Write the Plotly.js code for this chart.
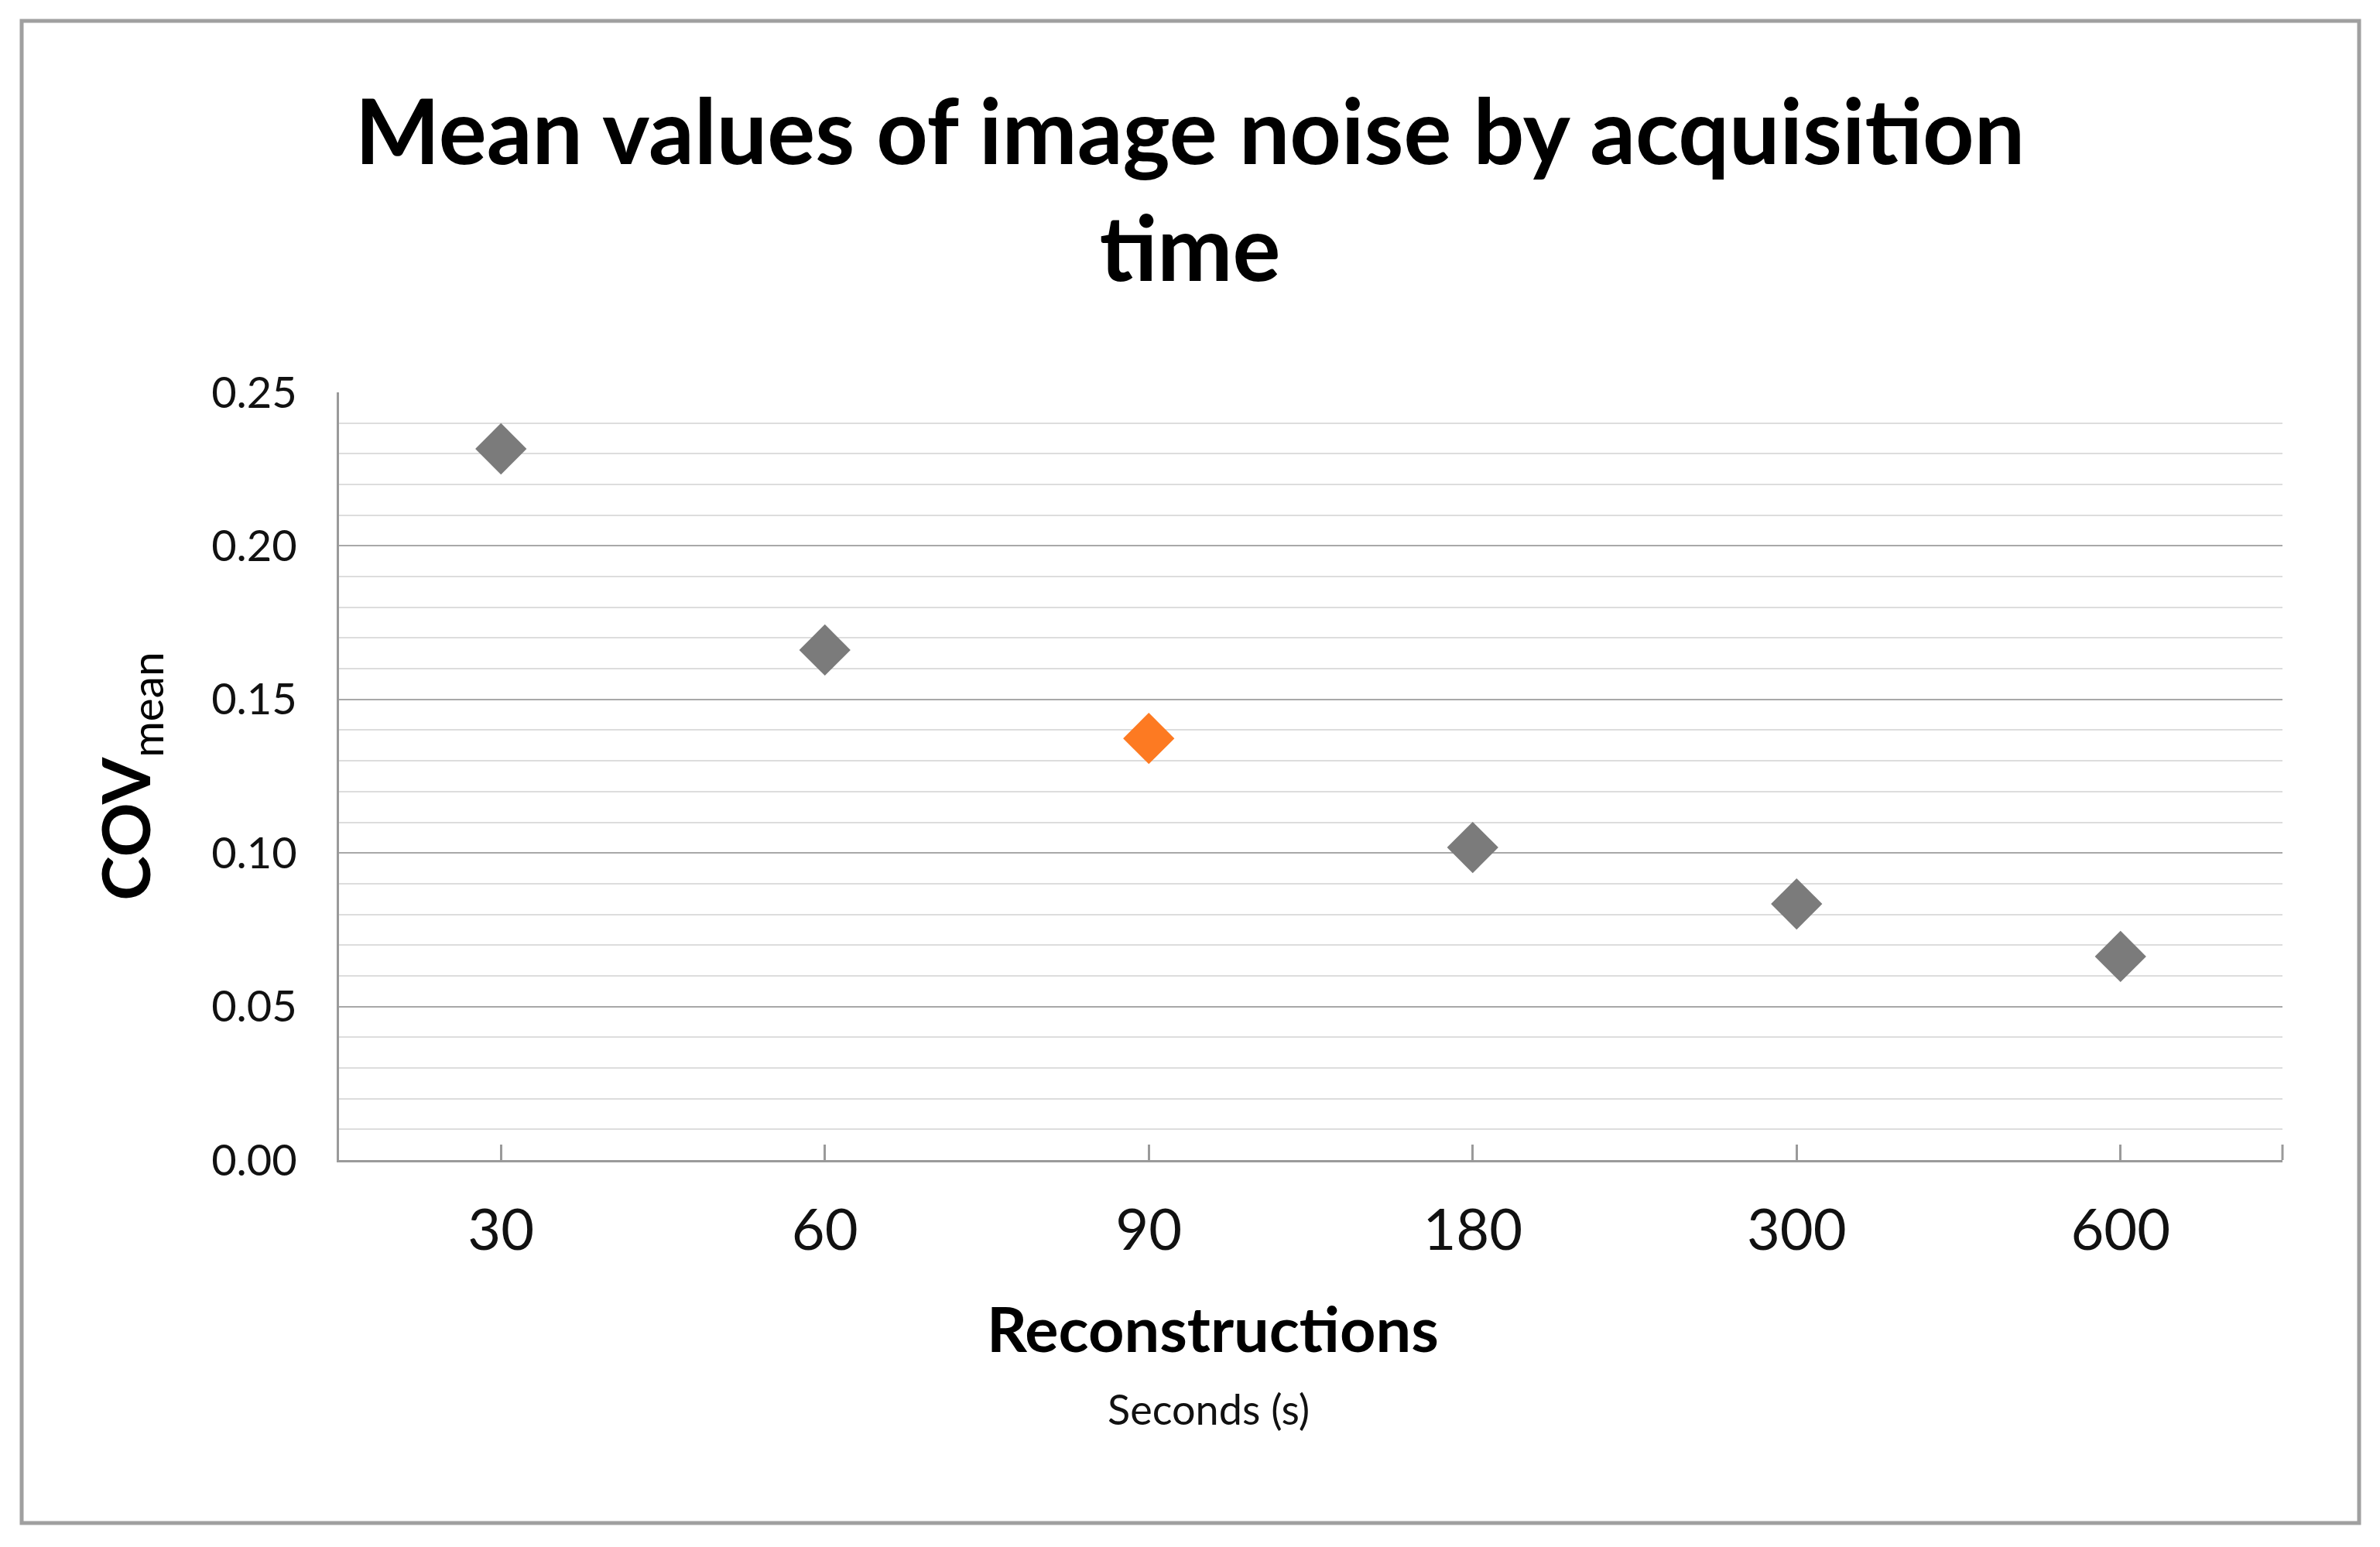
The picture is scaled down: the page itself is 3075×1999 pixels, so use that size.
<!DOCTYPE html>
<html>
<head>
<meta charset="utf-8">
<script src="https://cdn.plot.ly/plotly-3.0.1.min.js"></script>
<style>html,body{margin:0;padding:0;background:#fff;}#chart{width:3075px;height:1999px;}</style>
</head>
<body>
<div id="chart"></div>
<script>
// Data
const categories = ["30", "60", "90", "180", "300", "600"];
const covMean = [0.2316, 0.1661, 0.1373, 0.1018, 0.0834, 0.0663];
const highlighted = "90";
const yTickValues = [0, 0.05, 0.10, 0.15, 0.20, 0.25];

const W = 3075, H = 1999;
const M = {l: 438, r: 126, t: 507, b: 500};
const pw = W - M.l - M.r, ph = H - M.t - M.b;
const px = x => (x - M.l) / pw;
const py = y => (H - M.b - y) / ph;

const GRAY = '#7b7b7b', ORANGE = '#fd7a22';
const colors = categories.map(c => c === highlighted ? ORANGE : GRAY);

const trace = {
  type: 'scatter', mode: 'markers',
  x: categories, y: covMean,
  marker: {symbol: 'diamond', size: 51, color: colors, line: {width: 0}},
  hoverinfo: 'x+y', showlegend: false
};

const FONT = 'Lato, "Open Sans", sans-serif';

const layout = {
  width: W, height: H,
  margin: M,
  paper_bgcolor: '#ffffff', plot_bgcolor: '#ffffff',
  font: {family: FONT, color: '#000'},
  title: {
    text: '<b>Mean values of image noise by acquisition<br>time</b>',
    font: {family: FONT, size: 116, color: '#000'},
    x: 0.5, xref: 'container', xanchor: 'center',
    y: 1 - 212 / H, yref: 'container', yanchor: 'top'
  },
  xaxis: {
    type: 'category',
    categoryorder: 'array', categoryarray: categories,
    range: [-0.5, categories.length - 0.5],
    showgrid: false, zeroline: false,
    showline: true, linecolor: '#9a9a9a', linewidth: 3,
    ticks: 'inside', ticklen: 20, tickwidth: 3, tickcolor: '#9a9a9a',
    tickfont: {family: FONT, size: 74, color: '#111'},
    ticklabelstandoff: 24,
    fixedrange: true
  },
  yaxis: {
    range: [0, 0.25],
    tickvals: yTickValues, tickformat: '.2f',
    showgrid: true, gridcolor: '#a8a8a8', gridwidth: 2,
    minor: {dtick: 0.01, showgrid: true, gridcolor: '#dddddd', gridwidth: 2, ticks: ''},
    zeroline: false,
    showline: true, linecolor: '#9a9a9a', linewidth: 3,
    ticks: '', ticklabelstandoff: 40,
    tickfont: {family: FONT, size: 56, color: '#111'},
    title: {
      text: '<b><span style="font-size:87px">COV</span></b><sub>mean</sub>',
      font: {family: FONT, size: 81, color: '#000'},
      standoff: 52
    },
    fixedrange: true
  },
  annotations: [
    {text: '<b>Reconstructions</b>', xref: 'paper', yref: 'paper',
     x: px(1567), y: py(1766), xanchor: 'center', yanchor: 'bottom', showarrow: false,
     font: {family: FONT, size: 81, color: '#000'}},
    {text: 'Seconds (s)', xref: 'paper', yref: 'paper',
     x: px(1561), y: py(1786), xanchor: 'center', yanchor: 'top', showarrow: false,
     font: {family: FONT, size: 54, color: '#111'}}
  ],
  shapes: [
    {type: 'rect', xref: 'paper', yref: 'paper',
     x0: px(28), x1: px(3048), y0: py(1968), y1: py(27),
     line: {color: '#a0a0a0', width: 5}, fillcolor: 'rgba(0,0,0,0)', layer: 'below'},
    {type: 'line', xref: 'paper', yref: 'paper',
     x0: 1, x1: 1, y0: 0, y1: 20 / ph,
     line: {color: '#9a9a9a', width: 3}}
  ]
};

Plotly.newPlot('chart', [trace], layout, {displayModeBar: false, staticPlot: true});
</script>
</body>
</html>
